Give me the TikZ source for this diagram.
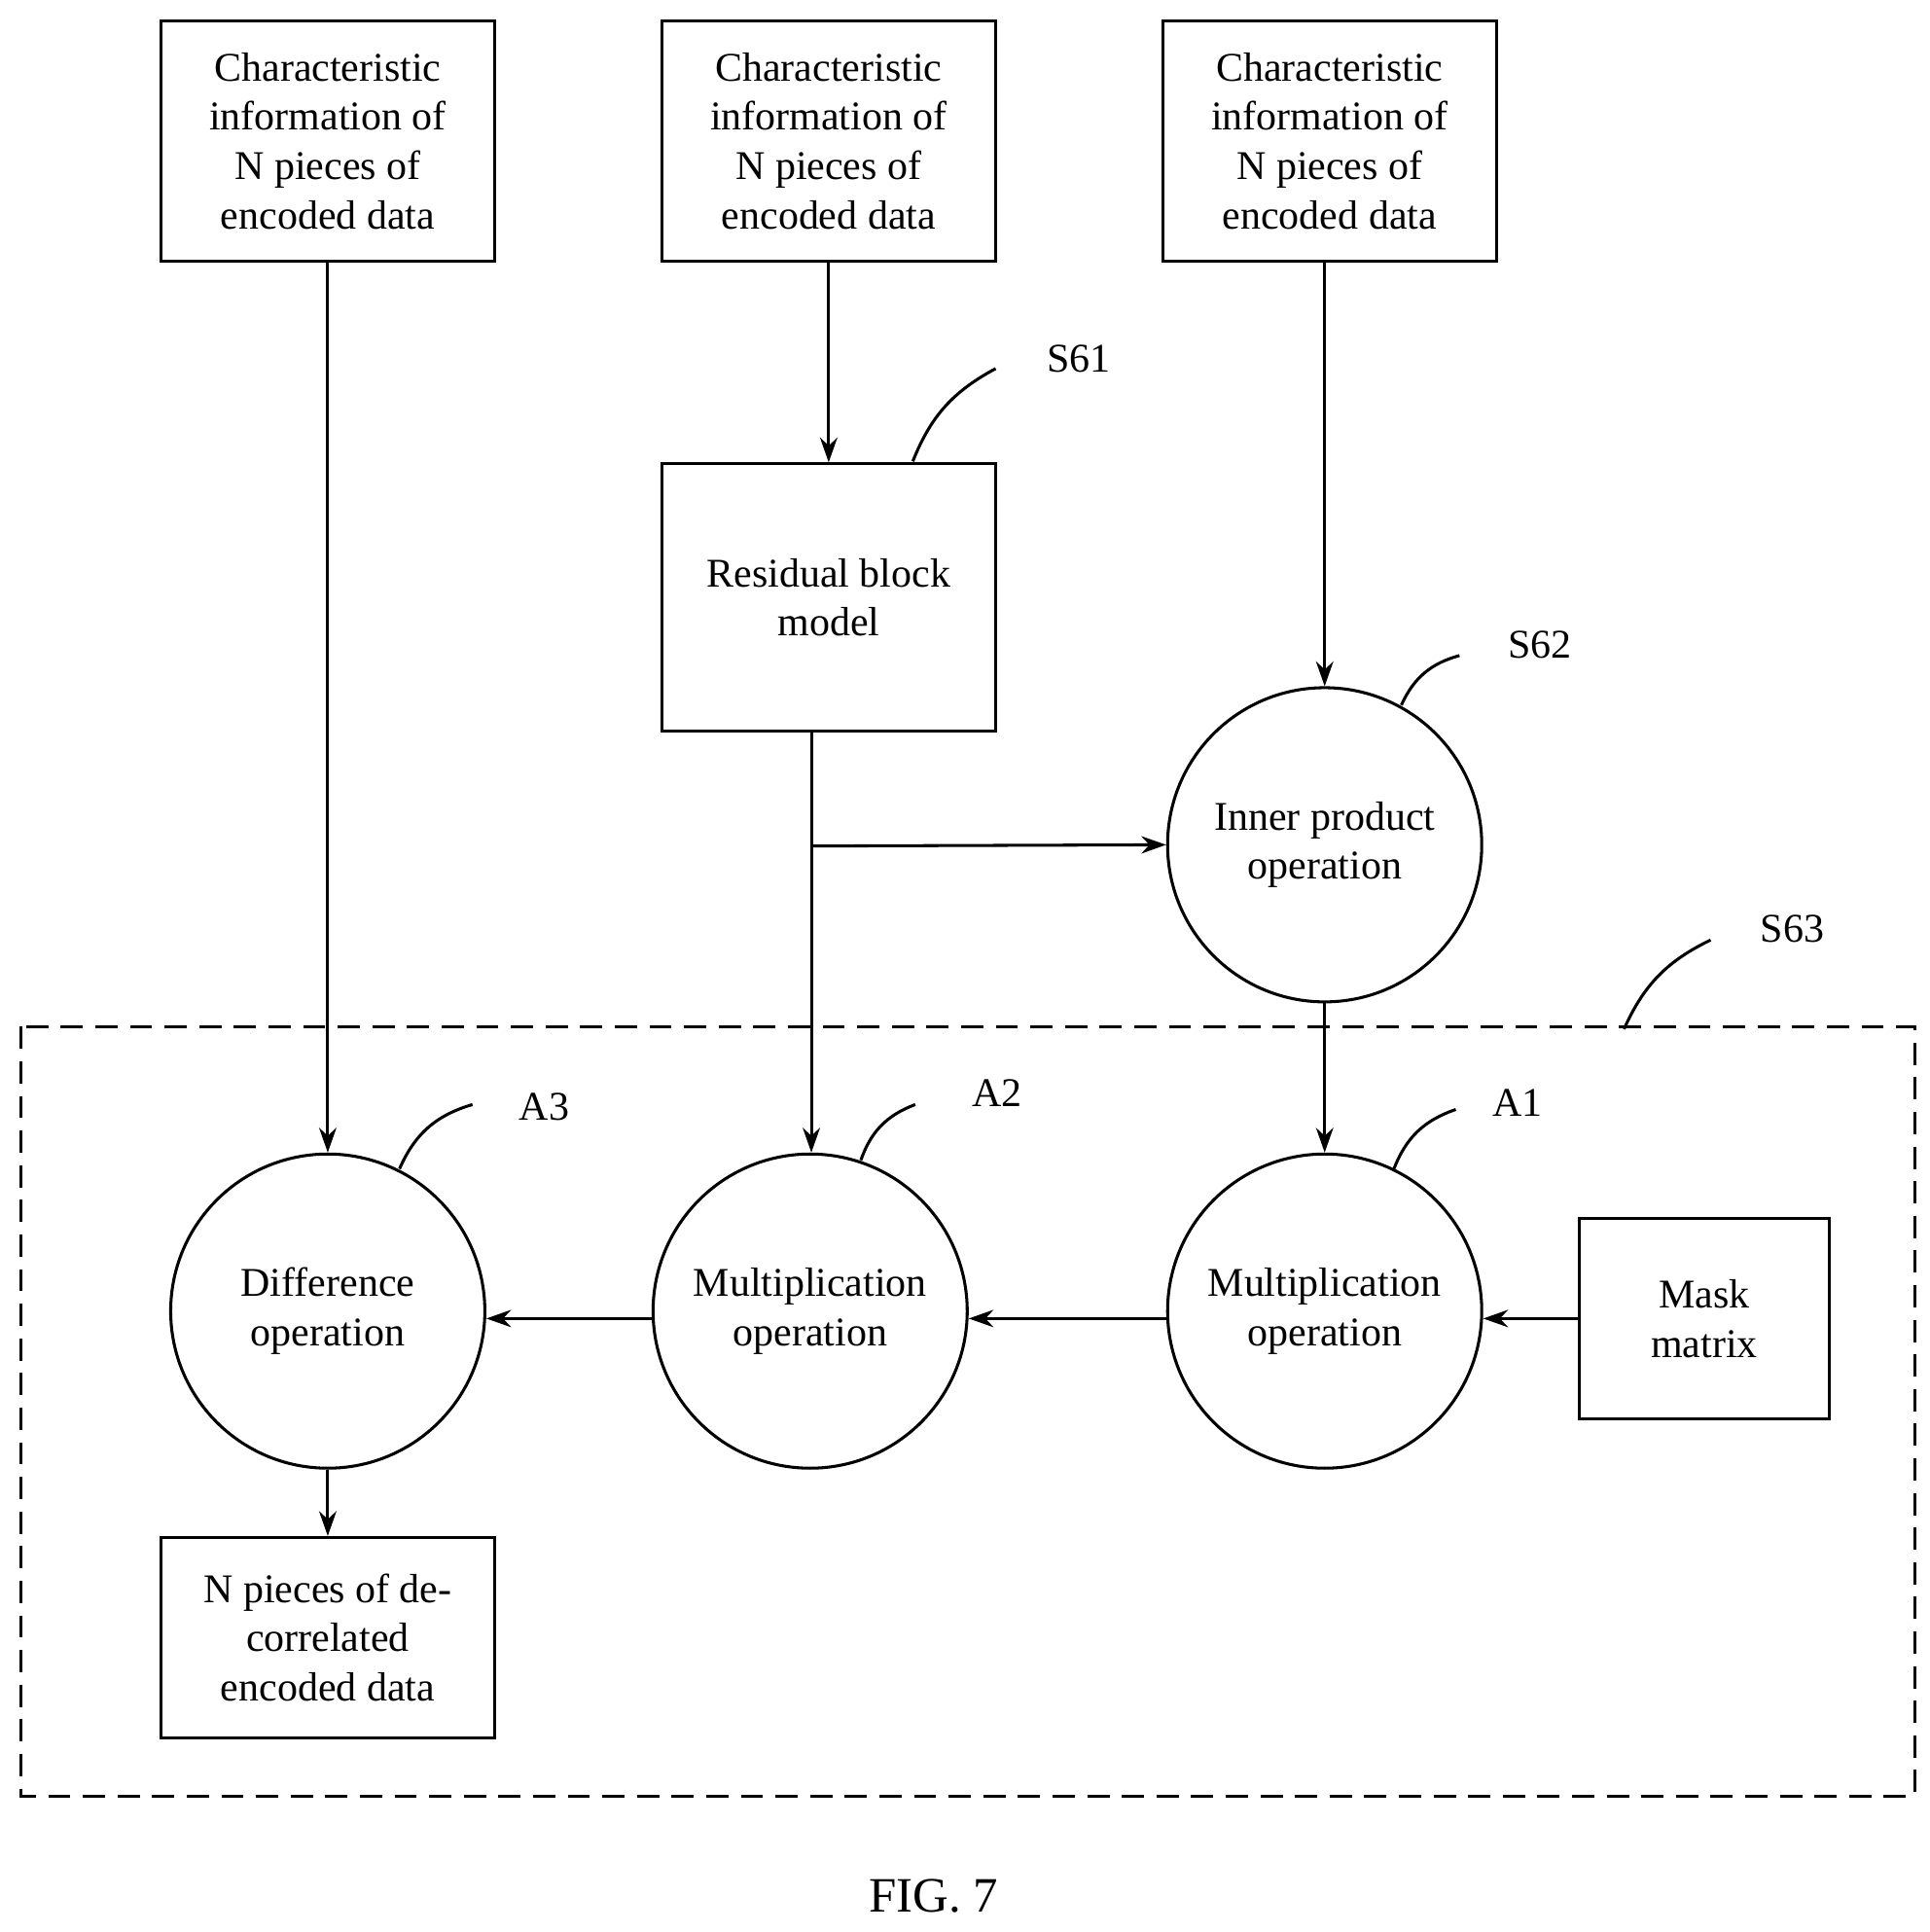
\documentclass[tikz,border=0pt]{standalone}
\usepackage{fontspec}
\setmainfont{Liberation Serif}
\usetikzlibrary{arrows.meta}
\begin{document}
\begin{tikzpicture}[x=0.5pt,y=-0.5pt,
  every node/.style={font=\fontsize{16.5}{20}\selectfont, align=center},
  box/.style={draw, line width=1.2pt, inner sep=0pt},
  circ/.style={draw, circle, line width=1.2pt, minimum size=127pt, inner sep=0pt},
  arr/.style={line width=1.2pt, -{Stealth[length=10pt,width=7pt]}},
  lead/.style={line width=1.2pt}]
\useasboundingbox (0,0) rectangle (1560,1562);
\node[box, minimum width=135pt, minimum height=97pt] (t1) at (265,114) {Characteristic\\information of\\N pieces of\\encoded data};
\node[box, minimum width=135pt, minimum height=97pt] (t2) at (670,114) {Characteristic\\information of\\N pieces of\\encoded data};
\node[box, minimum width=135pt, minimum height=97pt] (t3) at (1075,114) {Characteristic\\information of\\N pieces of\\encoded data};
\node[box, minimum width=135pt, minimum height=108pt] (res) at (670,483) {Residual block\\model};
\node[circ] (ip) at (1071,683) {Inner product\\operation};
\node[circ] (a3) at (265,1060) {Difference\\operation};
\node[circ] (a2) at (655,1060) {Multiplication\\operation};
\node[circ] (a1) at (1071,1060) {Multiplication\\operation};
\node[box, minimum width=101pt, minimum height=81pt] (mask) at (1378,1066) {Mask\\matrix};
\node[box, minimum width=135pt, minimum height=81pt] (out) at (265,1324) {N pieces of de-\\correlated\\encoded data};
\draw[line width=1.2pt, dash pattern=on 9pt off 5pt] (17,830) rectangle (1548,1452);
\node (fig) at (755,1533) {\fontsize{20}{24}\selectfont FIG. 7};

\draw[arr] (t1.south) -- (a3.north);
\draw[arr] (t2.south) -- (res.north);
\draw[arr] (t3.south -| ip.north) -- (ip.north);
\coordinate (rb) at (656,591);
\coordinate (br) at (656,684);
\draw[arr] (rb) -- (a2.north -| rb);
\draw[arr] (br) -- (ip.west);
\draw[arr] (ip.south) -- (a1.north);
\draw[arr] (mask.west) -- (mask.west -| a1.east);
\draw[arr] (a1.west |- 0,1066) -- (a2.east |- 0,1066);
\draw[arr] (a2.west |- 0,1066) -- (a3.east |- 0,1066);
\draw[arr] (a3.south) -- (out.north);

\node (s61) at (872,290) {S61};
\node (s62) at (1245,521) {S62};
\node (s63) at (1449,751) {S63};
\node (la3) at (440,895) {A3};
\node (la2) at (806,884) {A2};
\node (la1) at (1227,892) {A1};
\draw[lead] (738,373) to[bend left=20] (805,298);
\draw[lead] (1133,570) to[bend left=25] (1180,530);
\draw[lead] (1313,832) to[bend left=20] (1383,760);
\draw[lead] (323,945) to[bend left=25] (382,893);
\draw[lead] (696,938) to[bend left=25] (740,893);
\draw[lead] (1127,945) to[bend left=25] (1177,897);
\end{tikzpicture}
\end{document}
